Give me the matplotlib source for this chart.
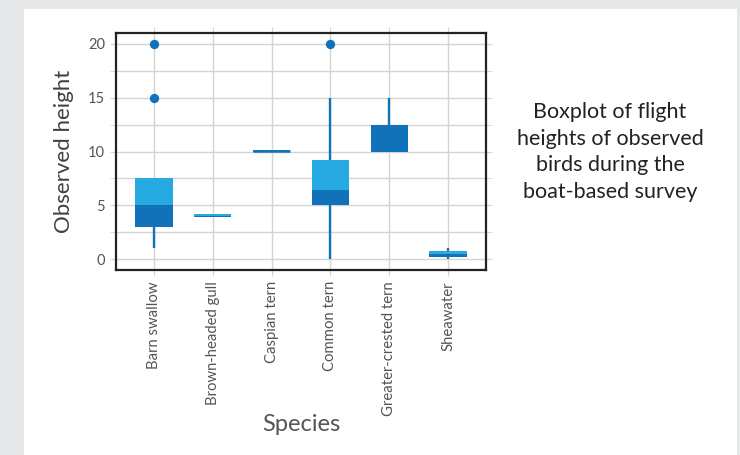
import matplotlib
matplotlib.use("Agg")
import matplotlib.pyplot as plt
import numpy as np

species = ["Barn swallow", "Brown-headed gull", "Caspian tern", "Common tern",
           "Greater-crested tern", "Sheawater"]
q1 = [3.0, 3.9, 10.0, 5.0, 10.0, 0.25]
median = [5.0, 4.05, 10.15, 6.45, 12.5, 0.5]
q3 = [7.5, 4.2, 10.15, 9.2, 12.5, 0.75]
whisk_lo = [1.0, 3.9, 10.0, 0.0, 10.0, 0.0]
whisk_hi = [7.5, 4.2, 10.15, 15.0, 15.0, 1.0]
outlier_x = ["Barn swallow", "Barn swallow", "Common tern"]
outlier_y = [15.0, 20.0, 20.0]
yticks = [0, 5, 10, 15, 20]

DARK = "#1172ba"
LIGHT = "#27a9e1"
TXT = "#555555"
GRID = "#d4d4d4"

plt.rcParams["font.family"] = ["Lato", "DejaVu Sans"]

fig = plt.figure(figsize=(7.4, 4.55), dpi=100)
fig.patch.set_facecolor("#e6e7e8")
fig.add_artist(plt.Rectangle((24/740, 0), (737-24)/740, 1 - 9/455,
                             transform=fig.transFigure, facecolor="white",
                             edgecolor="none", zorder=0))

ax = fig.add_axes([116/740, 1 - 270/455, 370/740, 237/455])
ax.set_facecolor("white")
x = np.arange(len(species))
w = 0.64

ax.vlines(x, whisk_lo, whisk_hi, color=DARK, linewidth=1.7, zorder=3)
ax.bar(x, np.array(median) - np.array(q1), bottom=q1, width=w, color=DARK,
       zorder=4, linewidth=0)
ax.bar(x, np.array(q3) - np.array(median), bottom=median, width=w, color=LIGHT,
       zorder=4, linewidth=0)
# thin visible line for degenerate boxes
for xi, a, b in zip(x, q1, q3):
    if b - a < 0.2:
        ax.hlines((a + b) / 2, xi - w/2, xi + w/2, color=DARK, linewidth=1.8, zorder=4)
ox = [species.index(s) for s in outlier_x]
ax.scatter(ox, outlier_y, s=45, color=DARK, zorder=5, linewidths=0)

ax.set_xlim(-0.64, 5.64)
ax.set_ylim(-1.0, 21.0)
ax.set_xticks(x)
ax.set_xticklabels(species, rotation=90, fontsize=10.7, color=TXT)
ax.set_yticks(yticks)
ax.set_yticks([2.5, 7.5, 12.5, 17.5], minor=True)
ax.set_yticklabels([str(t) for t in yticks], fontsize=10.5, color=TXT)
ax.grid(True, which="both", color=GRID, linewidth=1.0, zorder=0)
ax.set_axisbelow(True)
ax.tick_params(axis="both", which="both", direction="out", length=4,
               color=GRID, top=True, right=True, pad=4)
for sp in ax.spines.values():
    sp.set_color("#222222")
    sp.set_linewidth(1.6)

ax.set_ylabel("Observed height", fontsize=16, color="#404040", labelpad=10)
ax.set_xlabel("Species", fontsize=17, color=TXT, labelpad=-1)

fig.text(610/740, 1 - 152/455,
         "Boxplot of flight\nheights of observed\nbirds during the\nboat-based survey",
         ha="center", va="center", fontsize=15.5, color="#222222", linespacing=1.42)

fig.savefig("out.png", dpi=100, facecolor=fig.get_facecolor())
